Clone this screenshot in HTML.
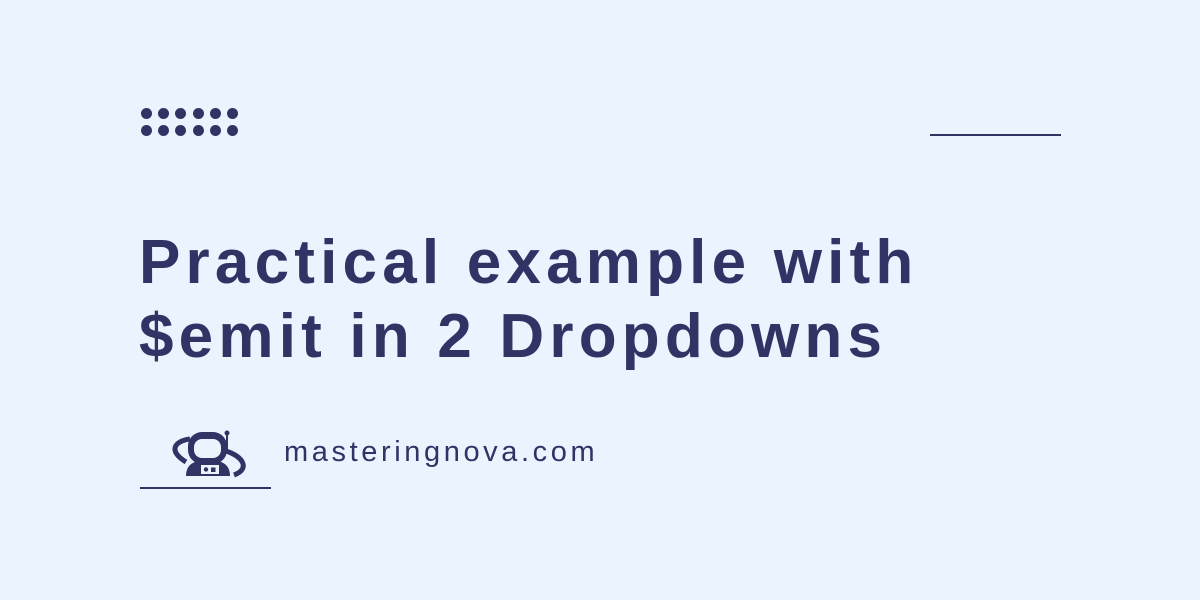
<!DOCTYPE html>
<html><head><meta charset="utf-8"><style>
body{margin:0;width:1200px;height:600px;background:#ebf3fe;position:relative;overflow:hidden;font-family:"Liberation Sans",sans-serif;color:#2f3465}
.abs{position:absolute}
.dot{position:absolute;width:11px;height:11px;border-radius:50%;background:#2f3465}
</style></head><body>
<div class="abs" style="left:0;top:0">
<script>
var g=document.currentScript.parentNode;
for(var r=0;r<2;r++)for(var c=0;c<6;c++){var d=document.createElement('div');d.className='dot';


d.style.left=(141+c*17.2)+'px';d.style.top=(108+r*17)+'px';g.appendChild(d);}
</script></div>
<div class="abs" style="left:930px;top:134px;width:131px;height:2px;background:#2f3465"></div>
<div class="abs" style="left:139px;top:226px;font-size:62px;font-weight:bold;line-height:74px;letter-spacing:5.2px">Practical example with<br>$emit in 2 Dropdowns</div>
<svg class="abs" style="left:168px;top:425px" width="82" height="55" viewBox="0 0 82 55">
<path d="M22 14 C6 16 0 26 18 37" stroke="#2f3465" stroke-width="5" fill="none"/>
<path d="M58 26 C76 32 82 44 66 50" stroke="#2f3465" stroke-width="5" fill="none"/>
<rect x="20" y="7" width="39" height="32" rx="14" fill="#2f3465"/>
<rect x="26" y="14" width="27" height="19" rx="8" fill="#ebf3fe"/>
<line x1="59" y1="9" x2="59" y2="28" stroke="#2f3465" stroke-width="2"/>
<circle cx="59" cy="8" r="2.5" fill="#2f3465"/>
<path d="M18 51 C18 40 25 35 40 35 C55 35 62 40 62 51 Z" fill="#2f3465"/>
<rect x="33" y="40" width="18" height="9" fill="#ebf3fe"/>
<circle cx="38" cy="44.5" r="2.2" fill="#2f3465"/><rect x="43" y="42.5" width="4.5" height="4.5" fill="#2f3465"/>
</svg>
<div class="abs" style="left:284px;top:436px;font-size:29px;letter-spacing:3.6px">masteringnova.com</div>
<div class="abs" style="left:140px;top:487px;width:131px;height:2px;background:#2f3465"></div>
</body></html>
